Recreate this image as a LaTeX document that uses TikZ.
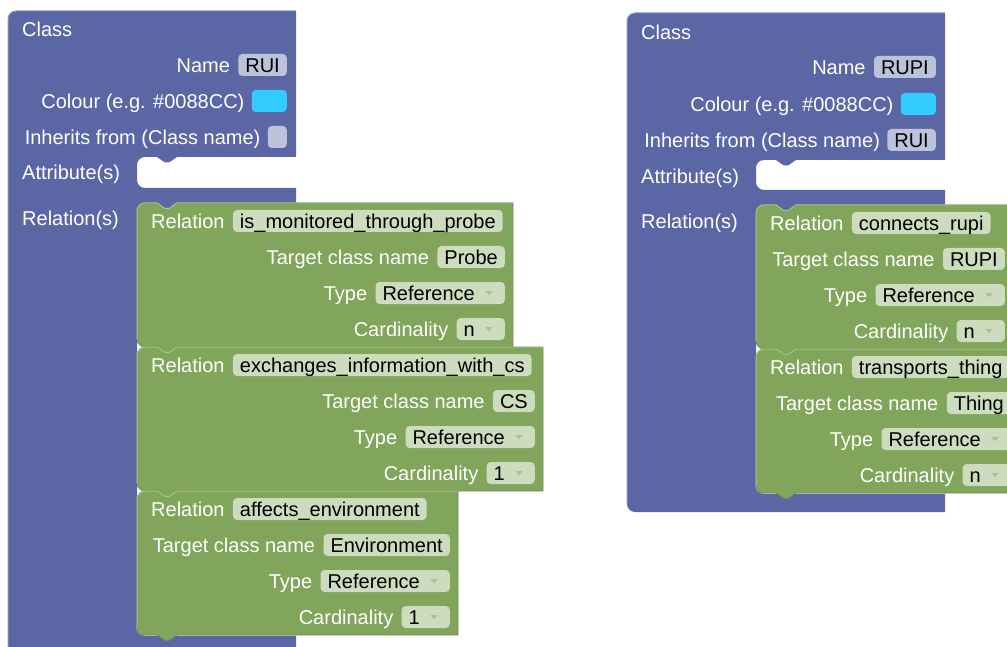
\documentclass[tikz,border=0pt]{standalone}
\usepackage{fontspec}
\setmainfont{Liberation Sans}

\definecolor{classblue}{HTML}{5B67A5}
\definecolor{classlight}{HTML}{8D96C3}
\definecolor{classinner}{HTML}{D4D7EA}
\definecolor{relgreen}{HTML}{80A55B}
\definecolor{rellight}{HTML}{A9C38F}
\definecolor{reldark}{HTML}{6E9150}
\definecolor{bluefield}{HTML}{BDC2DB}
\definecolor{greenfield}{HTML}{CDDBBE}
\definecolor{swatchcyan}{HTML}{33CCFF}
\definecolor{ddtip}{HTML}{A9C095}

\tikzset{
  txt/.style={font=\fontsize{20}{24}\selectfont, text height=17pt, text depth=2pt},
  rowlabel/.style={txt, text=white, inner sep=0pt, anchor=east},
  headlabel/.style={txt, text=white, inner sep=0pt, anchor=west},
  fieldbox/.style={txt, text=black, fill=#1, rounded corners=4pt,
    inner xsep=7pt, inner ysep=1.5pt, anchor=east},
  bfield/.style={fieldbox=bluefield},
  gfield/.style={fieldbox=greenfield},
  gfieldw/.style={gfield, anchor=west},
  relbody/.style={fill=relgreen, draw=reldark, line width=0.7pt, line join=round},
  relhi/.style={draw=rellight, line width=1pt, line join=round},
  classbody/.style={fill=classblue},
  classhi/.style={draw=classlight, line width=1pt},
  classinhi/.style={draw=classinner, line width=1.5pt},
  ddtipstyle/.style={fill=ddtip}
}

% small dropdown triangle at the right end of a field
\newcommand{\droptip}[1]{%
  \fill[ddtipstyle] ([shift={(-19.5,-1.8)}]#1.east) -- ([shift={(-12.5,-1.8)}]#1.east)
    -- ([shift={(-16,2.2)}]#1.east) -- cycle;}

% class block: #1 left, #2 top, #3 right, #4 statement left, #5 attribute slot top,
% #6 attribute slot bottom, #7 relation input top, #8 relation input bottom, #9 bottom
\newcommand{\classblock}[9]{%
  \fill[classbody] (#1,#2+8) .. controls (#1,#2+3.6) and (#1+3.6,#2) .. (#1+8,#2)
    -- (#3,#2) -- (#3,#5)
    -- (#4+40,#5) -- (#4+32,#5+5.5) -- (#4+28,#5+5.5) -- (#4+20,#5)
    -- (#4+8,#5) .. controls (#4+3.6,#5) and (#4,#5+3.6) .. (#4,#5+8)
    -- (#4,#6-8) .. controls (#4,#6-3.6) and (#4+3.6,#6) .. (#4+8,#6)
    -- (#3,#6) -- (#3,#7)
    -- (#4+40,#7) -- (#4+32,#7+5.5) -- (#4+28,#7+5.5) -- (#4+20,#7)
    -- (#4+8,#7) .. controls (#4+3.6,#7) and (#4,#7+3.6) .. (#4,#7+8)
    -- (#4,#8-8) .. controls (#4,#8-3.6) and (#4+3.6,#8) .. (#4+8,#8)
    -- (#3,#8) -- (#3,#9)
    -- (#1+8,#9) .. controls (#1+3.6,#9) and (#1,#9-3.6) .. (#1,#9-8) -- cycle;
  \draw[classhi] (#1,#9-8) -- (#1,#2+8) .. controls (#1,#2+3.6) and (#1+3.6,#2) .. (#1+8,#2) -- (#3,#2);
  \draw[classinhi] (#4,#8-8) .. controls (#4,#8-3.6) and (#4+3.6,#8) .. (#4+8,#8) -- (#3,#8);
}

% relation block: #1 name prefix, #2 left, #3 top, #4 right,
% #5 relation name, #6 target class, #7 type, #8 cardinality
\newcommand{\relblock}[8]{%
  \path[relbody] (#2,#3+8) .. controls (#2,#3+3.6) and (#2+3.6,#3) .. (#2+8,#3)
    -- (#2+20,#3) -- (#2+28,#3+5.5) -- (#2+32,#3+5.5) -- (#2+40,#3) -- (#4,#3)
    -- (#4,#3+144) -- (#2+40,#3+144) -- (#2+32,#3+149.5) -- (#2+28,#3+149.5) -- (#2+20,#3+144)
    -- (#2+8,#3+144) .. controls (#2+3.6,#3+144) and (#2,#3+140.4) .. (#2,#3+136) -- cycle;
  \draw[relhi] (#2,#3+136) -- (#2,#3+8) .. controls (#2,#3+3.6) and (#2+3.6,#3) .. (#2+8,#3)
    -- (#2+20,#3) -- (#2+28,#3+5.5) -- (#2+32,#3+5.5) -- (#2+40,#3) -- (#4,#3);
  \node[headlabel] (#1-rl) at (#2+14,#3+18) {Relation};
  \node[gfieldw] (#1-rel) at ([xshift=8pt]#1-rl.east) {#5};
  \node[gfield] (#1-tgt) at (#4-8,#3+54) {#6};
  \node[rowlabel] (#1-tl) at ([xshift=-8pt]#1-tgt.west) {Target class name};
  \node[gfield] (#1-typ) at (#4-8,#3+90) {#7\kern23pt};
  \node[rowlabel] (#1-yl) at ([xshift=-8pt]#1-typ.west) {Type};
  \droptip{#1-typ}
  \node[gfield] (#1-card) at (#4-8,#3+126) {#8\kern23pt};
  \node[rowlabel] (#1-cl) at ([xshift=-8pt]#1-card.west) {Cardinality};
  \droptip{#1-card}
}

\begin{document}
\begin{tikzpicture}[x=1pt, y=-1pt]
\useasboundingbox (0,0) rectangle (1007,647);
\clip (0,0) rectangle (1007,647);

% ---- class RUI ----
\classblock{8}{11}{296}{137}{157}{188}{203}{635}{660}
\node[headlabel] (c1-title) at (22,29) {Class};
\node[bfield] (c1-name) at (287,65) {RUI};
\node[rowlabel] (c1-namel) at ([xshift=-8pt]c1-name.west) {Name};
\node[fieldbox=swatchcyan, minimum width=35pt] (c1-col) at (287,101) {};
\node[rowlabel] (c1-coll) at ([xshift=-7pt]c1-col.west) {Colour (e.g. \#0088CC)};
\node[bfield, minimum width=19pt, inner xsep=0pt] (c1-inh) at (287,137) {};
\node[rowlabel] (c1-inhl) at ([xshift=-7pt]c1-inh.west) {Inherits from (Class name)};
\node[headlabel] (c1-attr) at (22,172) {Attribute(s)};
\node[headlabel] (c1-rels) at (22,218) {Relation(s)};

\relblock{r1}{137}{203}{513}{is\_monitored\_through\_probe}{Probe}{Reference}{n}
\relblock{r2}{137}{347}{543}{exchanges\_information\_with\_cs}{CS}{Reference}{1}
\relblock{r3}{137}{491}{458}{affects\_environment}{Environment}{Reference}{1}

% ---- class RUPI ----
\classblock{627}{13}{945}{756}{160}{190}{205}{493}{512}
\node[headlabel] (c2-title) at (641,32) {Class};
\node[bfield] (c2-name) at (936,67) {RUPI};
\node[rowlabel] (c2-namel) at ([xshift=-8pt]c2-name.west) {Name};
\node[fieldbox=swatchcyan, minimum width=35pt] (c2-col) at (936,104) {};
\node[rowlabel] (c2-coll) at ([xshift=-7pt]c2-col.west) {Colour (e.g. \#0088CC)};
\node[bfield] (c2-inh) at (936,140) {RUI};
\node[rowlabel] (c2-inhl) at ([xshift=-7pt]c2-inh.west) {Inherits from (Class name)};
\node[headlabel] (c2-attr) at (641,176) {Attribute(s)};
\node[headlabel] (c2-rels) at (641,221) {Relation(s)};

\relblock{r4}{756}{205}{1013}{connects\_rupi}{RUPI}{Reference}{n}
\relblock{r5}{756}{349}{1019}{transports\_thing}{Thing}{Reference}{n}
\end{tikzpicture}
\end{document}
